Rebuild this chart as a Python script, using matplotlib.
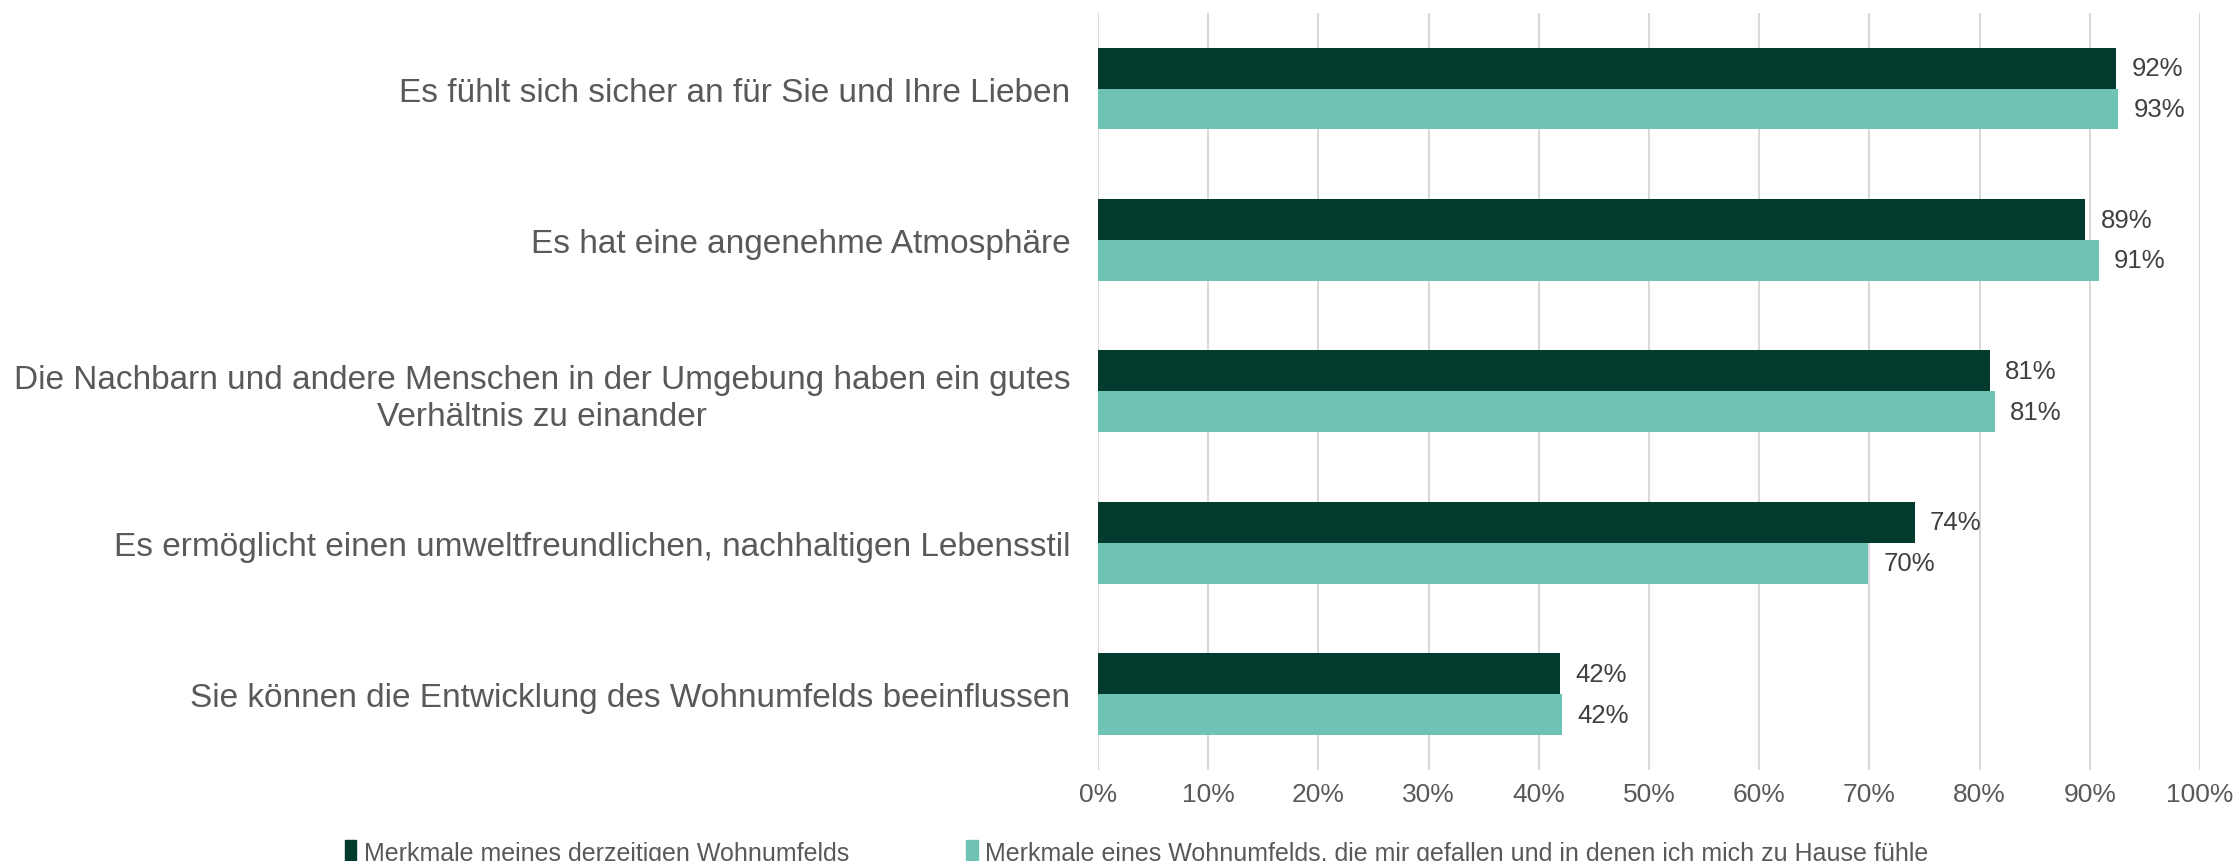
import matplotlib
matplotlib.use('Agg')
import matplotlib.pyplot as plt
import numpy as np
from matplotlib.patches import Patch

plt.rcParams['font.family'] = ['Liberation Sans', 'DejaVu Sans']

categories = [
    'Es fühlt sich sicher an für Sie und Ihre Lieben',
    'Es hat eine angenehme Atmosphäre',
    'Die Nachbarn und andere Menschen in der Umgebung haben ein gutes\nVerhältnis zu einander',
    'Es ermöglicht einen umweltfreundlichen, nachhaltigen Lebensstil',
    'Sie können die Entwicklung des Wohnumfelds beeinflussen',
]
current_values = [92.4, 89.6, 80.9, 74.1, 41.9]
liked_values = [92.6, 90.8, 81.4, 69.9, 42.1]
current_labels = ['92%', '89%', '81%', '74%', '42%']
liked_labels = ['93%', '91%', '81%', '70%', '42%']
series_names = ['Merkmale meines derzeitigen Wohnumfelds',
                'Merkmale eines Wohnumfelds, die mir gefallen und in denen ich mich zu Hause fühle']

dark_color = '#023B2E'
light_color = '#6FC3B4'
text_color = '#595959'

fig = plt.figure(figsize=(22.39, 8.62), dpi=100)
ax = fig.add_axes([0.4904, 0.1056, 0.4922, 0.8784])

y = np.arange(len(categories))
h = 0.27
bars1 = ax.barh(y - h / 2, current_values, height=h, color=dark_color, zorder=3)
bars2 = ax.barh(y + h / 2, liked_values, height=h, color=light_color, zorder=3)

for bar, lab in zip(bars1, current_labels):
    ax.annotate(lab, (bar.get_width(), bar.get_y() + bar.get_height() / 2),
                xytext=(11, 0), textcoords='offset points', va='center', ha='left',
                fontsize=18.5, color='#404040')
for bar, lab in zip(bars2, liked_labels):
    ax.annotate(lab, (bar.get_width(), bar.get_y() + bar.get_height() / 2),
                xytext=(11, 0), textcoords='offset points', va='center', ha='left',
                fontsize=18.5, color='#404040')

ax.set_ylim(len(categories) - 0.5, -0.5)
ax.set_xlim(0, 100)
ax.set_xticks(np.arange(0, 101, 10))
ax.set_xticklabels([f'{v}%' for v in range(0, 101, 10)], fontsize=19, color=text_color)
ax.set_yticks(y)
ax.set_yticklabels(categories, fontsize=24, color=text_color, multialignment='center',
                   linespacing=1.25)
ax.tick_params(axis='y', length=0, pad=20)
ax.tick_params(axis='x', length=0, pad=9)
ax.grid(axis='x', color='#D9D9D9', linewidth=1.5, zorder=0)
for s in ax.spines.values():
    s.set_visible(False)

handles = [Patch(color=dark_color), Patch(color=light_color)]
fig.legend(handles, series_names, loc='lower left', bbox_to_anchor=(0.144, -0.031),
           ncol=2, frameon=False, fontsize=18, labelcolor=text_color,
           handlelength=0.45, handleheight=1.0, handletextpad=0.3, columnspacing=4.7)

fig.savefig('out.png', dpi=100)
